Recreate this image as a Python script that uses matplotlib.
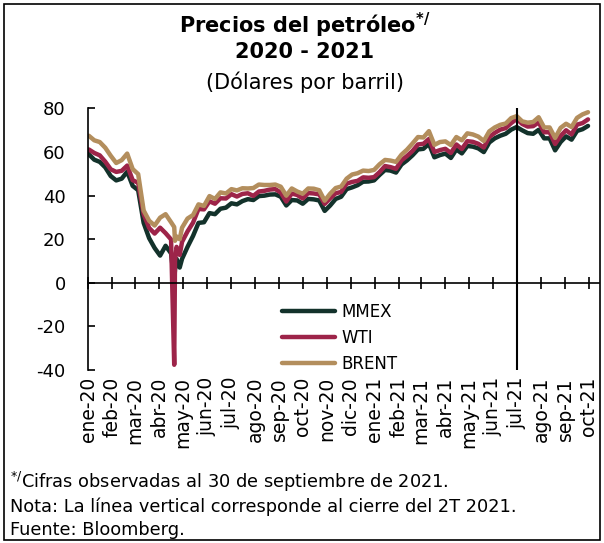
import numpy as np
import pandas as pd
import matplotlib
matplotlib.use('Agg')
import matplotlib.pyplot as plt
from matplotlib.patches import Rectangle

# weekly observations (Thursdays) 2 ene 2020 - 30 sep 2021
week_dates = pd.date_range('2020-01-02', '2021-09-30', freq='7D')

brent_2020 = [67.5, 65.4, 64.6, 62.0, 58.3,
              55.0, 56.3, 59.3, 52.2,
              49.9, 33.2, 28.5, 26.3,
              29.9, 31.5, 27.8, 21.3, 25.3,
              29.5, 31.1, 36.0, 35.3,
              39.8, 38.5, 41.5, 41.0,
              43.0, 42.4, 43.4, 43.3, 43.5,
              45.1, 44.9, 44.9, 45.1,
              44.1, 40.0, 43.3, 41.9,
              40.9, 43.3, 43.2, 42.5, 37.7,
              40.9, 43.5, 44.2, 47.8,
              49.7, 50.3, 51.5, 51.3, 51.8]
brent_2021 = [54.4, 56.4, 56.1, 55.5,
              58.8, 61.1, 63.9, 66.9,
              66.7, 69.6, 63.3, 64.6,
              64.9, 63.2, 66.9, 65.4, 68.6,
              68.1, 67.1, 65.1, 69.5,
              71.3, 72.5, 73.1, 75.6,
              76.5, 74.1, 73.5, 73.8, 76.0,
              71.3, 71.3, 66.5, 71.1,
              73.0, 71.5, 75.7, 77.3, 78.3]

wti_2020 = [61.2, 59.6, 58.5, 55.6, 52.1,
            50.9, 51.4, 53.8, 47.1,
            45.9, 31.5, 25.2, 22.6,
            25.3, 22.8, 19.9, 16.5, 18.8,
            23.6, 27.6, 33.9, 33.7,
            37.4, 36.3, 38.8, 38.7,
            40.7, 39.6, 40.8, 41.1, 39.9,
            41.9, 42.2, 42.8, 43.0,
            41.4, 37.3, 41.0, 40.3,
            38.7, 41.2, 41.0, 40.6, 36.2,
            38.8, 41.1, 41.7, 45.5,
            46.3, 46.8, 48.4, 48.2, 48.5]
wti_2021 = [50.8, 53.6, 53.1, 52.3,
            56.2, 58.2, 60.5, 63.5,
            63.8, 66.0, 60.0, 60.9,
            61.5, 59.6, 63.5, 61.4, 65.0,
            64.7, 63.8, 62.1, 66.9,
            68.8, 70.3, 71.0, 73.3,
            75.2, 72.9, 71.7, 71.9, 73.6,
            69.1, 69.1, 63.7, 67.4,
            70.0, 68.1, 72.6, 73.3, 75.0]

mmex_2020 = [59.0, 56.5, 55.5, 53.0, 49.0,
             47.0, 47.8, 51.0, 44.5,
             42.5, 27.5, 20.5, 16.0,
             12.5, 17.0, 13.5, 11.0, 11.0,
             16.5, 21.5, 27.5, 27.8,
             32.0, 31.5, 34.0, 34.5,
             36.5, 36.0, 37.5, 38.4, 38.0,
             39.8, 40.0, 40.5, 40.6,
             39.5, 35.5, 38.0, 37.8,
             36.3, 38.5, 38.3, 37.8, 33.0,
             35.5, 38.5, 39.5, 43.0,
             43.8, 44.8, 46.4, 46.5, 47.0]
mmex_2021 = [49.5, 51.8, 51.5, 50.6,
             54.3, 56.2, 58.5, 61.2,
             61.5, 63.8, 57.6, 58.6,
             59.3, 57.3, 61.2, 59.4, 62.8,
             62.5, 61.7, 60.0, 64.4,
             66.3, 67.5, 68.4, 70.3,
             71.5, 70.0, 68.7, 68.4, 70.2,
             66.3, 66.3, 60.8, 64.6,
             67.2, 65.7, 69.7, 70.5, 72.0]

# extra daily points around the april 2020 collapse
extra_dates = pd.to_datetime(['2020-04-20', '2020-04-21', '2020-04-27'])
brent_extra = [25.6, 19.3, 20.0]
wti_extra = [-37.6, 10.0, 12.8]
mmex_extra = [1.0, 6.0, 7.0]

month_labels = ['ene-20', 'feb-20', 'mar-20', 'abr-20', 'may-20', 'jun-20',
                'jul-20', 'ago-20', 'sep-20', 'oct-20', 'nov-20', 'dic-20',
                'ene-21', 'feb-21', 'mar-21', 'abr-21', 'may-21', 'jun-21',
                'jul-21', 'ago-21', 'sep-21', 'oct-21']
month_ticks = pd.date_range('2020-01-01', '2021-10-01', freq='MS')
cierre_2t = pd.Timestamp('2021-07-01')

df = pd.DataFrame({'MMEX': mmex_2020 + mmex_2021,
                   'WTI': wti_2020 + wti_2021,
                   'BRENT': brent_2020 + brent_2021}, index=week_dates)
extra = pd.DataFrame({'MMEX': mmex_extra, 'WTI': wti_extra,
                      'BRENT': brent_extra}, index=extra_dates)
df = pd.concat([df, extra]).sort_index()

colors = {'MMEX': '#13322B', 'WTI': '#9D2449', 'BRENT': '#B38E5D'}

plt.rcParams['font.family'] = 'DejaVu Sans'
plt.rcParams['axes.unicode_minus'] = False
fig = plt.figure(figsize=(6.04, 5.43), dpi=100)
ax = fig.add_axes([0.1457, 0.3186, 0.846, 0.4816])

for name in ['MMEX', 'WTI', 'BRENT']:
    ax.plot(df.index, df[name], color=colors[name], lw=3.2, label=name,
            solid_capstyle='round')

ax.plot([cierre_2t, cierre_2t], [-40, 80], color='black', lw=1.5)

ax.set_xlim(pd.Timestamp('2020-01-01'), pd.Timestamp('2021-10-14'))
ax.set_ylim(-40, 80)
ax.set_yticks(np.arange(-40, 81, 20))
ax.tick_params(axis='y', direction='in', length=5, width=1.2, labelsize=13,
               pad=16)

# x axis drawn at zero, labels at the bottom
ax.spines['top'].set_visible(False)
ax.spines['right'].set_visible(False)
ax.spines['left'].set_linewidth(1.2)
ax.spines['bottom'].set_position(('data', 0))
ax.spines['bottom'].set_linewidth(1.2)
ax.set_xticks(month_ticks)
ax.tick_params(axis='x', direction='inout', length=9, width=1.2,
               labelbottom=False)

sec = ax.secondary_xaxis(0.0)
sec.set_xticks(month_ticks)
sec.set_xticklabels(month_labels, rotation=90, fontsize=13.5)
sec.tick_params(length=0, pad=5)
sec.spines['bottom'].set_visible(False)

ax.legend(loc='upper left', bbox_to_anchor=(0.35, 0.315), frameon=False,
          fontsize=12, handlelength=3.2, handletextpad=0.4, labelspacing=0.5)

fig.text(0.505, 0.954, r'Precios del petróleo$^{\mathbf{*/}}$', ha='center',
         va='center', fontsize=15, fontweight='bold')
fig.text(0.505, 0.904, '2020 - 2021', ha='center', va='center', fontsize=15,
         fontweight='bold')
fig.text(0.505, 0.849, '(Dólares por barril)', ha='center', va='center',
         fontsize=15)

fig.text(0.016, 0.112, r'$^{*/}$Cifras observadas al 30 de septiembre de 2021.',
         va='center', fontsize=12.8)
fig.text(0.016, 0.066, 'Nota: La línea vertical corresponde al cierre del 2T 2021.',
         va='center', fontsize=12.8)
fig.text(0.016, 0.024, 'Fuente: Bloomberg.', va='center', fontsize=12.8)

fig.patches.append(Rectangle((0.006, 0.006), 0.988, 0.987,
                             transform=fig.transFigure, fill=False,
                             edgecolor='black', lw=1.2))

fig.savefig('out.png', dpi=100)
